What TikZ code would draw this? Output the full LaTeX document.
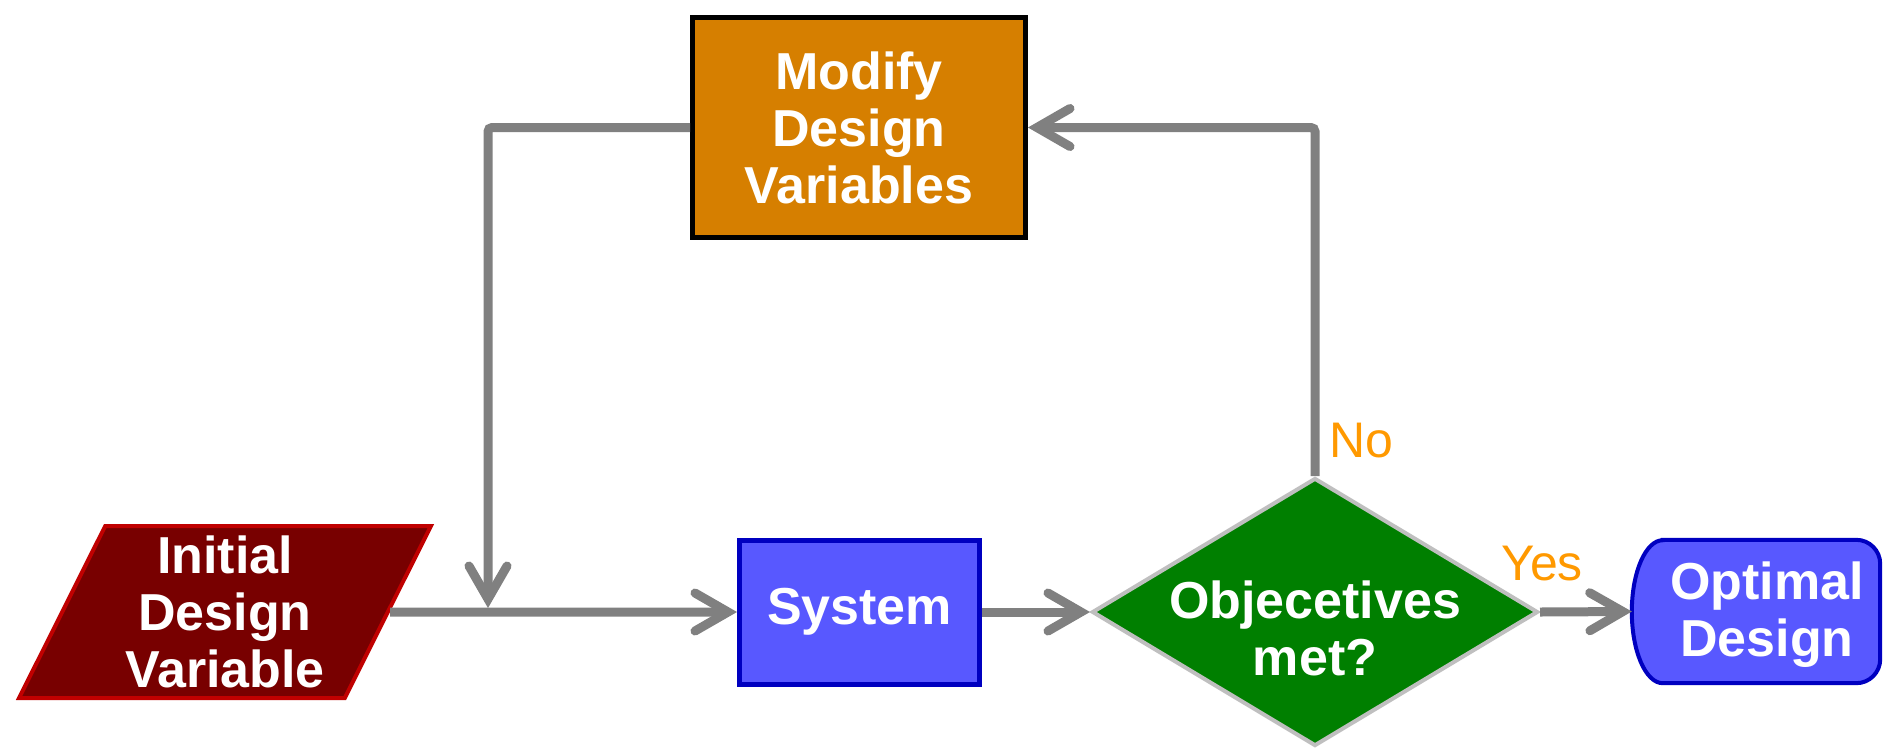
\documentclass[tikz,border=0pt]{standalone}
\usepackage{fontspec}
\setmainfont{Liberation Sans}
\usetikzlibrary{shapes.geometric,arrows.meta}
\definecolor{initfill}{HTML}{780000}
\definecolor{initdraw}{HTML}{C00000}
\definecolor{modfill}{HTML}{D67F00}
\definecolor{bluefill}{HTML}{5858FF}
\definecolor{bluedraw}{HTML}{0000C0}
\definecolor{objfill}{HTML}{007F00}
\definecolor{objdraw}{HTML}{BFBFBF}
\definecolor{conncol}{HTML}{808080}
\definecolor{lblcol}{HTML}{FF9900}
\pgfdeclarearrow{
  name=Chev,
  parameters={},
  setup code={
    \pgfarrowssettipend{0pt}
    \pgfarrowssetlineend{-12pt}
    \pgfarrowssetbackend{-47pt}
    \pgfarrowshullpoint{0pt}{0pt}
    \pgfarrowshullpoint{-47pt}{24pt}
    \pgfarrowshullpoint{-47pt}{-24pt}
  },
  drawing code={
    \pgfsetlinewidth{9pt}
    \pgfsetroundcap
    \pgfsetmiterjoin
    \pgfpathmoveto{\pgfpoint{-42pt}{19pt}}
    \pgfpathlineto{\pgfpoint{-9pt}{0pt}}
    \pgfpathlineto{\pgfpoint{-42pt}{-19pt}}
    \pgfusepathqstroke
  }
}
\begin{document}
\begin{tikzpicture}[x=1pt,y=-1pt,
  btext/.style={font=\bfseries\fontsize{52}{57}\selectfont, text=white, align=center, inner sep=0pt},
  lbl/.style={font=\fontsize{50}{54}\selectfont, text=lblcol, inner sep=0pt, anchor=base west},
  conn/.style={draw=conncol, line width=9pt, rounded corners=4pt, -{Chev}},
  boxrect/.style={rectangle, line width=5pt, btext}
]
\fill[white] (0,0) rectangle (1885,748);
\useasboundingbox (0,0) rectangle (1885,748);

% Initial design variable (parallelogram)
\node[trapezium, trapezium left angle=64.75, trapezium right angle=115.25,
  trapezium stretches=true, minimum width=412pt, minimum height=172pt,
  draw=initdraw, fill=initfill, line width=4pt, btext] (init) at (225,612)
  {Initial\\Design\\Variable};

% Modify design variables
\node[boxrect, draw=black, fill=modfill, minimum width=333pt, minimum height=220pt]
  (mod) at (859,127.5) {Modify\\Design\\Variables};

% System
\node[boxrect, draw=bluedraw, fill=bluefill, minimum width=240pt, minimum height=144pt]
  (sys) at (859.5,612) {System};

% Decision diamond
\node[diamond, draw=objdraw, fill=objfill, line width=4pt, inner sep=0pt,
  minimum width=446pt, minimum height=268pt] (obj) at (1315,612) {};
\node[btext] (objtext) at (1315,628) {Objecetives\\met?};

% Optimal design (terminator)
\node[rectangle, inner sep=0pt, minimum width=248pt, minimum height=143pt] (opt) at (1756,611.5) {};
\path[draw=bluedraw, fill=bluefill, line width=4pt]
  ([xshift=31pt]opt.north west) -- ([xshift=-24pt]opt.north east)
  arc[start angle=90, end angle=0, radius=24pt]
  -- ([yshift=24pt]opt.south east)
  arc[start angle=0, end angle=-90, radius=24pt]
  -- ([xshift=31pt]opt.south west)
  arc[start angle=270, end angle=90, x radius=31pt, y radius=71.5pt]
  -- cycle;
\node[btext] (opttext) at (1767,614.5) {Optimal\\Design};

% Connectors
\coordinate (junc) at (488,608);
\draw[conn] (init.east) -- (sys.west);
\draw[conn] (mod.west) -| (junc);
\draw[conn] (sys.east) -- (obj.west);
\draw[conn] (obj.north) |- (mod.east);
\draw[conn] (obj.east) -- (opt.west);

% Labels
\node[lbl] (no) at (1329,457) {No};
\node[lbl] (yes) at (1501,580) {Yes};
\end{tikzpicture}
\end{document}
